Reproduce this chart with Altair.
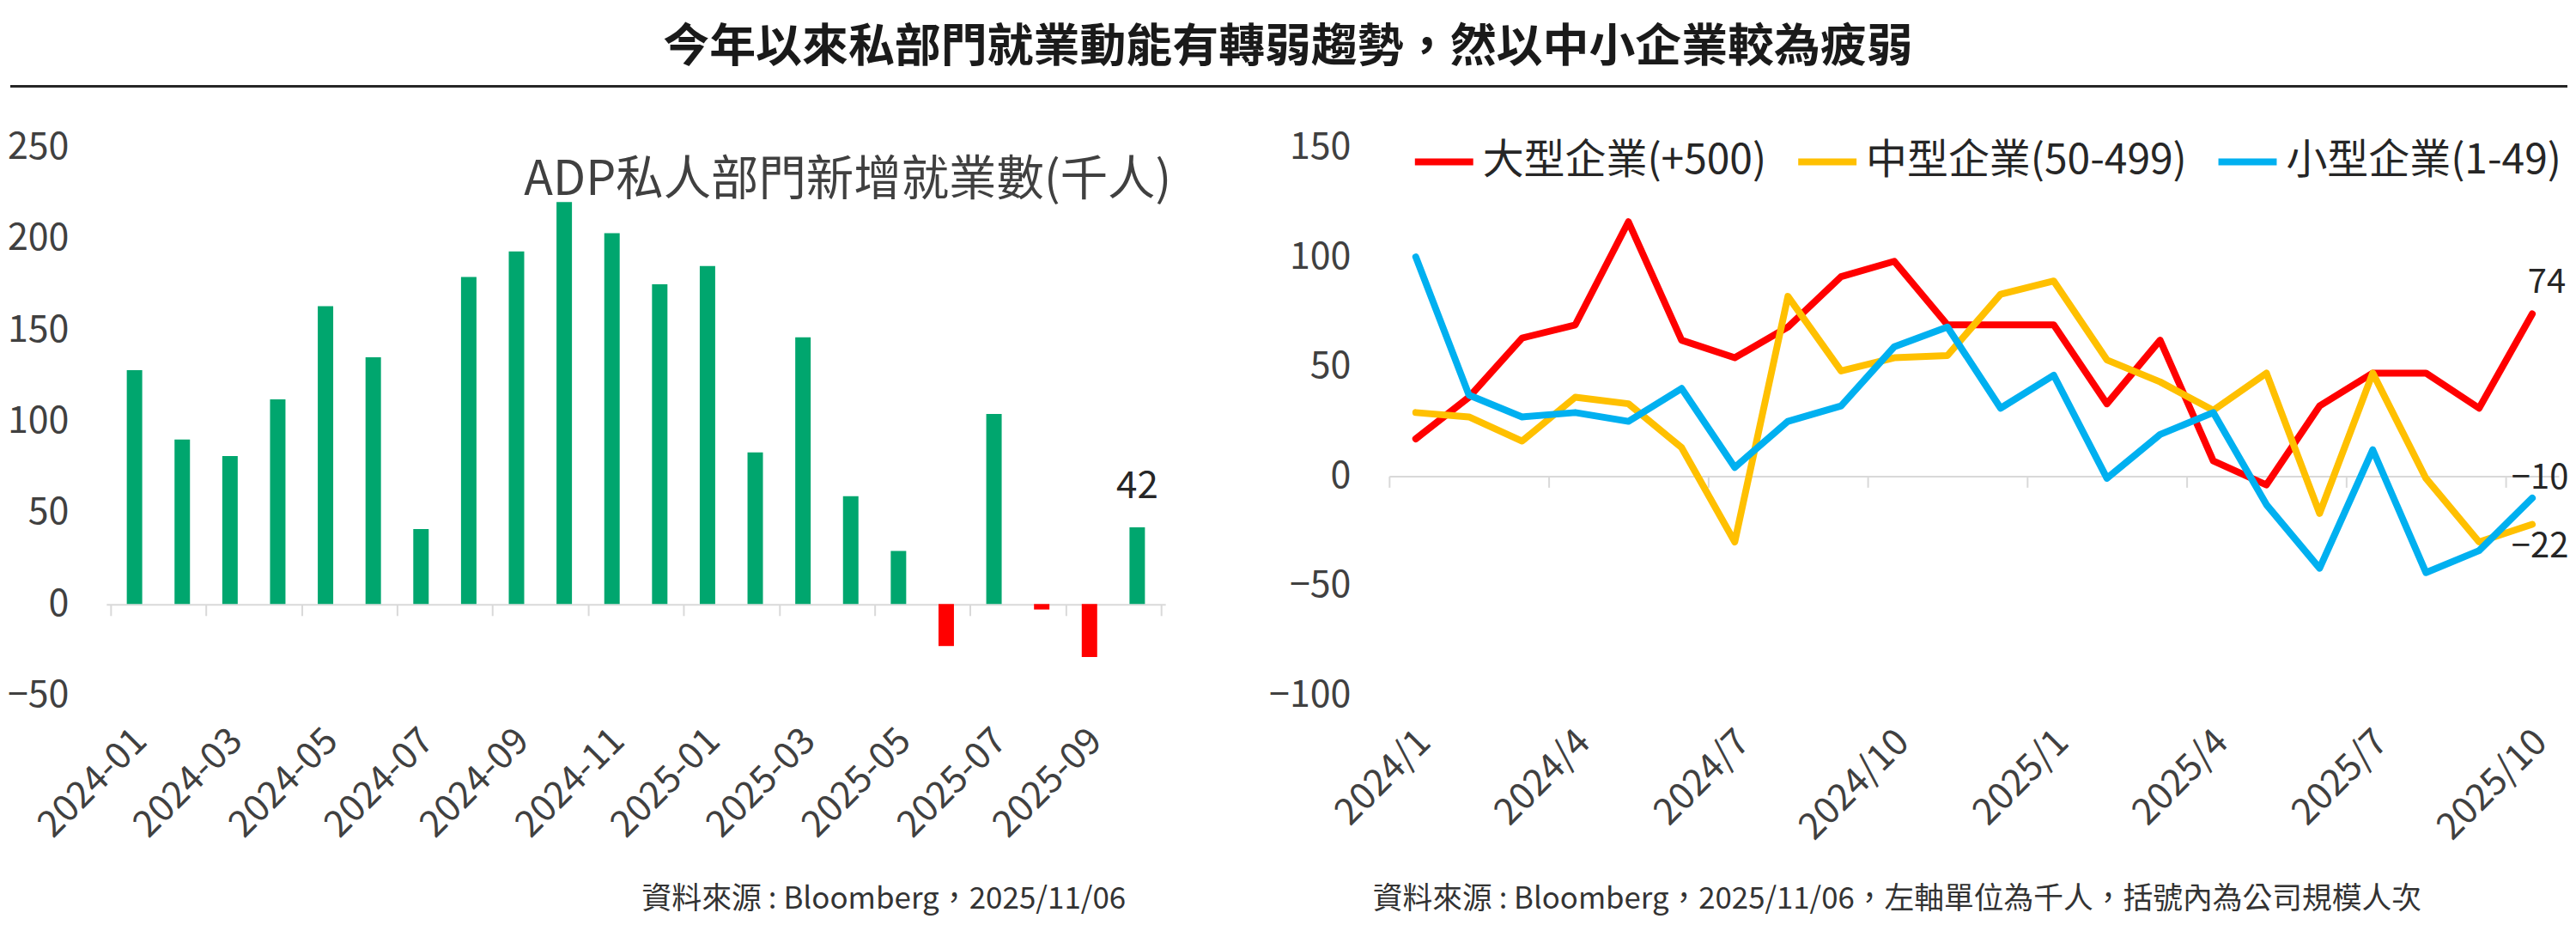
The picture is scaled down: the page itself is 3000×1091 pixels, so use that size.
import json
import altair as alt
import pandas as pd

FONT = "Noto Sans CJK TC"

# ---------------- data ----------------
months_left = ["2024-01", "2024-02", "2024-03", "2024-04", "2024-05", "2024-06",
               "2024-07", "2024-08", "2024-09", "2024-10", "2024-11", "2024-12",
               "2025-01", "2025-02", "2025-03", "2025-04", "2025-05", "2025-06",
               "2025-07", "2025-08", "2025-09", "2025-10"]
adp_total = [128, 90, 81, 112, 163, 135, 41, 179, 193, 220, 203, 175,
             185, 83, 146, 59, 29, -23, 104, -3, -29, 42]

months_right = ["2024/1", "2024/2", "2024/3", "2024/4", "2024/5", "2024/6",
                "2024/7", "2024/8", "2024/9", "2024/10", "2024/11", "2024/12",
                "2025/1", "2025/2", "2025/3", "2025/4", "2025/5", "2025/6",
                "2025/7", "2025/8", "2025/9", "2025/10"]
series_names = ["大型企業(+500)", "中型企業(50-499)", "小型企業(1-49)"]
large = [17, 36, 63, 69, 116, 62, 54, 68, 91, 98, 69, 69,
         69, 33, 62, 7, -4, 32, 47, 47, 31, 74]
medium = [29, 27, 16, 36, 33, 13, -30, 82, 48, 54, 55, 83,
          89, 53, 43, 30, 47, -17, 47, -1, -30, -22]
small = [100, 37, 27, 29, 25, 40, 4, 25, 32, 59, 68, 31,
         46, -1, 19, 29, -13, -42, 12, -44, -34, -10]
series_colors = ["#FF0000", "#FFC000", "#00B0F0"]

main_title = "今年以來私部門就業動能有轉弱趨勢，然以中小企業較為疲弱"
left_title = "ADP私人部門新增就業數(千人)"
left_note = "資料來源 : Bloomberg，2025/11/06"
right_note = "資料來源 : Bloomberg，2025/11/06，左軸單位為千人，括號內為公司規模人次"

# ---------------- tables ----------------
n = len(months_left)
df_left = pd.DataFrame({"idx": list(range(n)), "month": months_left, "value": adp_total})

rows = []
for name, vals in zip(series_names, [large, medium, small]):
    for i, v in enumerate(vals):
        rows.append({"idx": i, "month": months_right[i], "series": name, "value": v})
df_right = pd.DataFrame(rows)

one = pd.DataFrame({"k": [0]})

LW, LH = 1235, 639
RW, RH = 1364, 639

label_gray = "#404040"
text_dark = "#262626"

# ---------------- left panel ----------------
x_left = alt.X(
    "idx:Q",
    scale=alt.Scale(domain=[-0.5, n - 0.5], nice=False, zero=False),
    axis=alt.Axis(
        values=[-0.5 + 2 * k for k in range(n // 2 + 1)],
        labelExpr=f"{json.dumps(months_left)}[round(datum.value + 0.5)] || ''",
        orient="bottom", offset=-106, title=None, grid=False,
        domainColor="#D9D9D9", domainWidth=2,
        tickColor="#D9D9D9", tickWidth=2, tickSize=13,
        labelAngle=-45, labelAlign="right", labelBaseline="middle",
        labelPadding=139, labelOffset=35, labelFlush=False, labelOverlap=False,
        labelFont=FONT, labelFontSize=43, labelColor=label_gray,
    ),
)
y_left = alt.Y(
    "value:Q",
    scale=alt.Scale(domain=[-50, 250], nice=False),
    axis=alt.Axis(
        values=[-50, 0, 50, 100, 150, 200, 250], title=None, grid=False,
        domain=False, ticks=False, labelPadding=44,
        labelFont=FONT, labelFontSize=43, labelColor=label_gray,
    ),
)

bars = alt.Chart(df_left).mark_bar(size=18).encode(
    x=x_left,
    y=y_left,
    y2=alt.datum(0),
    color=alt.when(alt.datum.value < 0).then(alt.value("#FF0000")).otherwise(alt.value("#00A66E")),
)
last_bar_label = alt.Chart(df_left).transform_filter(alt.datum.idx == n - 1).mark_text(
    font=FONT, fontSize=44, color=text_dark, dy=-34, baseline="alphabetic", align="center"
).encode(x="idx:Q", y="value:Q", text="value:Q")

title_text = alt.Chart(one).mark_text(
    font=FONT, fontSize=54, fontWeight="bold", color="#1A1A1A", align="center", baseline="alphabetic"
).encode(x=alt.value(1378), y=alt.value(-100), text=alt.value(main_title))
top_bound = alt.Chart(one).mark_rule(color="#FFFFFF", strokeWidth=1).encode(
    x=alt.value(-112), x2=alt.value(2870), y=alt.value(-162))
bottom_bound = alt.Chart(one).mark_rule(color="#FFFFFF", strokeWidth=1).encode(
    x=alt.value(-112), x2=alt.value(2870), y=alt.value(905))
header_rule = alt.Chart(one).mark_rule(color="#262626", strokeWidth=3).encode(
    x=alt.value(-112), x2=alt.value(2870), y=alt.value(-71))
inner_title = alt.Chart(one).mark_text(
    font=FONT, fontSize=55.5, color=label_gray, align="right", baseline="alphabetic"
).encode(x=alt.value(1242), y=alt.value(56), text=alt.value(left_title))
left_foot = alt.Chart(one).mark_text(
    font=FONT, fontSize=35, color="#333333", align="right", baseline="alphabetic"
).encode(x=alt.value(1189), y=alt.value(888), text=alt.value(left_note))

left = alt.layer(top_bound, bottom_bound, header_rule, title_text, bars, last_bar_label,
                 inner_title, left_foot).properties(width=LW, height=LH)

# ---------------- right panel ----------------
x_right = alt.X(
    "idx:Q",
    scale=alt.Scale(domain=[-0.5, n - 0.5], nice=False, zero=False),
    axis=alt.Axis(
        values=[-0.5 + 3 * k for k in range(8)],
        labelExpr=f"{json.dumps(months_right)}[round(datum.value + 0.5)] || ''",
        orient="bottom", offset=-255.6, title=None, grid=False,
        domainColor="#D9D9D9", domainWidth=2,
        tickColor="#D9D9D9", tickWidth=2, tickSize=13,
        labelAngle=-45, labelAlign="right", labelBaseline="middle",
        labelPadding=290, labelOffset=41, labelFlush=False, labelOverlap=False,
        labelFont=FONT, labelFontSize=43, labelColor=label_gray,
    ),
)
y_right = alt.Y(
    "value:Q",
    scale=alt.Scale(domain=[-100, 150], nice=False),
    axis=alt.Axis(
        values=[-100, -50, 0, 50, 100, 150], title=None, grid=False,
        domain=False, ticks=False, labelPadding=45,
        labelFont=FONT, labelFontSize=43, labelColor=label_gray,
    ),
)

lines = alt.Chart(df_right).mark_line(strokeWidth=8, strokeJoin="round", strokeCap="round").encode(
    x=x_right,
    y=y_right,
    color=alt.Color(
        "series:N",
        scale=alt.Scale(domain=series_names, range=series_colors),
        sort=series_names,
        legend=alt.Legend(
            orient="none", legendX=26, legendY=-21, direction="horizontal",
            title=None, padding=0, symbolType="stroke", symbolSize=4624,
            symbolStrokeWidth=8, labelFont=FONT, labelFontSize=48,
            labelColor=text_dark, labelOffset=7, columnPadding=20, labelLimit=0,
        ),
    ),
)

def end_label(name, dx, dy):
    return alt.Chart(df_right).transform_filter(
        (alt.datum.series == name) & (alt.datum.idx == n - 1)
    ).mark_text(font=FONT, fontSize=40, color=text_dark, dx=dx, dy=dy,
                align="center", baseline="alphabetic").encode(
        x="idx:Q", y="value:Q", text="value:Q")

right_foot = alt.Chart(one).mark_text(
    font=FONT, fontSize=34.8, color="#333333", align="left", baseline="alphabetic"
).encode(x=alt.value(-19), y=alt.value(888), text=alt.value(right_note))

right = alt.layer(
    lines,
    end_label(series_names[0], 17, -25),
    end_label(series_names[1], 9, 39),
    end_label(series_names[2], 9, -11),
    right_foot,
).properties(width=RW, height=RH)

chart = alt.hconcat(left, right, spacing=261, bounds="flush").resolve_scale(
    color="independent"
).properties(
    padding=0, background="#FFFFFF"
).configure_view(stroke=None)

chart.save("out.html", embed_options={"renderer": "svg", "actions": False})
